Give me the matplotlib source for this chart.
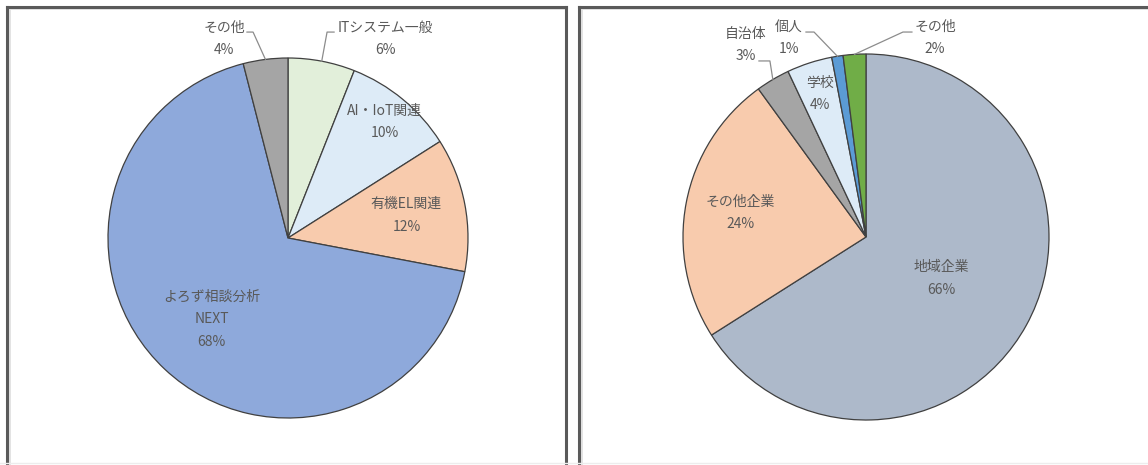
import numpy as np
import matplotlib
matplotlib.use("Agg")
import matplotlib.pyplot as plt
from matplotlib.lines import Line2D

plt.rcParams['font.family'] = ['Noto Sans CJK JP', 'DejaVu Sans']

# ---------------------------------------------------------------------------
# Dados
# ---------------------------------------------------------------------------
temas = ["ITシステム一般", "AI・IoT関連", "有機EL関連", "よろず相談分析\nNEXT", "その他"]
temas_pct = [6, 10, 12, 68, 4]
temas_cores = ["#E2EFDA", "#DDEBF7", "#F8CBAD", "#8EA9DB", "#A5A5A5"]

clientes = ["地域企業", "その他企業", "自治体", "学校", "個人", "その他"]
clientes_pct = [66, 24, 3, 4, 1, 2]
clientes_cores = ["#ADB9CA", "#F8CBAD", "#A5A5A5", "#DDEBF7", "#5B9BD5", "#70AD47"]

W, H = 1148, 465
COR_TXT = "#595959"
COR_LINHA = "#8C8C8C"


def px_ax(fig, cx, cy, r):
    return fig.add_axes([(cx - r) / W, (H - cy - r) / H, 2 * r / W, 2 * r / H])


def desenhar_pizza(ax, valores, nomes, cores, dentro, fora):
    """dentro: {idx: distancia radial}; fora: {idx: (texto_xy, inicio, cotovelo)}"""
    wedges, _ = ax.pie(valores, colors=cores, startangle=90, counterclock=False,
                       radius=1.0,
                       wedgeprops=dict(edgecolor="#404040", linewidth=0.9))
    for i, w in enumerate(wedges):
        meio = np.deg2rad((w.theta1 + w.theta2) / 2)
        txt = f"{nomes[i]}\n{valores[i]}%"
        if i in dentro:
            d = dentro[i]
            ax.text(d * np.cos(meio), d * np.sin(meio), txt, ha="center",
                    va="center", fontsize=10, color=COR_TXT, linespacing=1.75)
        elif i in fora:
            (tx, ty), ini, cot = fora[i]
            ax.text(tx, ty, txt, ha="center", va="center", fontsize=10,
                    color=COR_TXT, linespacing=1.75, clip_on=False)
            xs = [ini[0], cot[0], np.cos(meio)]
            ys = [ini[1], cot[1], np.sin(meio)]
            ax.add_line(Line2D(xs, ys, color=COR_LINHA, linewidth=0.9,
                               clip_on=False))
    ax.set_xlim(-1, 1)
    ax.set_ylim(-1, 1)
    ax.set_aspect("equal")
    ax.axis("off")


fig = plt.figure(figsize=(W / 100, H / 100), dpi=100)

# molduras dos dois paineis
def linha_px(x0, y0, x1, y1, cor, lw):
    fig.add_artist(Line2D([x0 / W, x1 / W], [1 - y0 / H, 1 - y1 / H],
                          transform=fig.transFigure, color=cor, linewidth=lw))

for (x0, x1, direita) in [(7, 566, True), (579, 1150, False)]:
    linha_px(x0 + 2.5, 9.5, x0 + 2.5, H, "#E3E3E3", 1.4)
    linha_px(x0 + 2.5, 9.5, x1, 9.5, "#E3E3E3", 1.4)
    linha_px(x0, 7, x0, H, "#5A5A5A", 2.2)
    linha_px(x0, 7, x1, 7, "#5A5A5A", 2.2)
    if direita:
        linha_px(x1, 7, x1, H, "#5A5A5A", 2.2)
linha_px(0, 463, W, 463, "#EDEDED", 1.0)

ax1 = px_ax(fig, 288, 238, 180)
desenhar_pizza(ax1, temas_pct, temas, temas_cores,
               dentro={1: 0.84, 2: 0.67, 3: 0.62},
               fora={0: ((0.539, 1.106), (0.256, 1.144), (0.217, 1.144)),
                     4: ((-0.356, 1.106), (-0.228, 1.144), (-0.194, 1.144))})

ax2 = px_ax(fig, 866, 237, 183)
desenhar_pizza(ax2, clientes_pct, clientes, clientes_cores,
               dentro={0: 0.47, 1: 0.70, 3: 0.82},
               fora={2: ((-0.656, 1.049), (-0.585, 0.962), (-0.525, 0.962)),
                     4: ((-0.421, 1.087), (-0.328, 1.120), (-0.284, 1.120)),
                     5: ((0.377, 1.087), (0.251, 1.120), (0.202, 1.120))})

fig.savefig("out.png", dpi=100)
